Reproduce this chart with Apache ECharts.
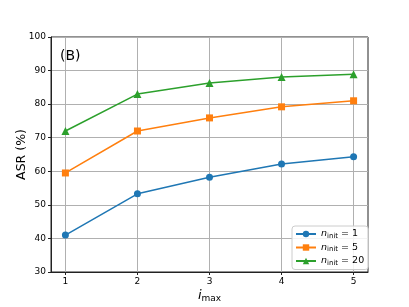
<!DOCTYPE html>
<html><head><meta charset="utf-8">
<script src="https://cdn.jsdelivr.net/npm/echarts@6/dist/echarts.min.js"></script>
<style>html,body{margin:0;padding:0;background:#fff}#c{width:409px;height:307px}</style>
</head><body><div id="c"></div>
<script>
const iMax = [1, 2, 3, 4, 5];
const asrN1 = [41.0, 53.3, 58.2, 62.2, 64.3];
const asrN5 = [59.5, 72.0, 75.9, 79.2, 81.0];
const asrN20 = [72.0, 83.0, 86.3, 88.1, 88.9];
const yTicks = [30, 40, 50, 60, 70, 80, 90, 100];
const nInit = ['1', '5', '20'];

const font = 'DejaVu Sans';
const colors = ['#1f77b4', '#ff7f0e', '#2ca02c'];
const symbols = ['circle', 'rect', 'triangle'];
const datasets = [asrN1, asrN5, asrN20];

const series = datasets.map((vals, k) => ({
  name: 'n' + nInit[k],
  type: 'line',
  data: iMax.map((x, i) => [x, vals[i]]),
  symbol: symbols[k],
  symbolSize: k === 2 ? 8 : 7,
  showSymbol: true,
  lineStyle: { color: colors[k], width: 1.5 },
  itemStyle: { color: colors[k] },
  emphasis: { disabled: true },
  z: 3 + k
}));

const chart = echarts.init(document.getElementById('c'), null, { renderer: 'canvas' });
chart.setOption({
  animation: false,
  title: {
    text: '(B)', left: 55, top: 44,
    textStyle: { fontFamily: font, fontSize: 14, fontWeight: 'normal', color: '#000' }
  },
  grid: { left: 51, right: 41, top: 37, bottom: 35, outerBoundsMode: 'none', containLabel: false,
          show: true, borderColor: '#222', borderWidth: 1, backgroundColor: 'transparent' },
  xAxis: {
    type: 'value', min: 0.8, max: 5.2,
    name: '{i|i}{s|max}', nameLocation: 'middle', nameGap: 16, nameMoveOverlap: false,
    nameTextStyle: { rich: {
      i: { fontFamily: font, fontStyle: 'italic', fontSize: 13, color: '#000' },
      s: { fontFamily: font, fontSize: 9, color: '#000', verticalAlign: 'bottom', padding: [6, 0, 0, 0] }
    } },
    axisLine: { show: true, onZero: false, lineStyle: { color: '#222', width: 1 } },
    axisTick: { show: true, customValues: iMax, length: 3, lineStyle: { color: '#222' } },
    axisLabel: { customValues: iMax, fontFamily: font, fontSize: 9, color: '#000', margin: 5 },
    splitLine: { show: true, lineStyle: { color: '#b0b0b0', width: 1 } }
  },
  yAxis: {
    type: 'value', min: 30, max: 100, interval: 10,
    name: 'ASR (%)', nameLocation: 'middle', nameGap: 23, nameMoveOverlap: false,
    nameTextStyle: { fontFamily: font, fontSize: 12.5, color: '#000' },
    axisLine: { show: true, lineStyle: { color: '#222', width: 1 } },
    axisTick: { show: true, length: 3, lineStyle: { color: '#222' } },
    axisLabel: { fontFamily: font, fontSize: 9, color: '#000', margin: 5 },
    splitLine: { show: true, lineStyle: { color: '#b0b0b0', width: 1 } }
  },
  legend: {
    orient: 'vertical', left: 292, top: 226,
    backgroundColor: 'rgba(255,255,255,0.85)', borderColor: '#cccccc', borderWidth: 1, borderRadius: 3,
    padding: [3, 4, 3, 3], itemGap: 3, itemWidth: 20, itemHeight: 8,
    data: series.map(s => s.name),
    formatter: function (name) {
      const v = name.slice(1);
      return '{n|n}{s|init}{e| = ' + v + '}';
    },
    textStyle: { rich: {
      n: { fontFamily: font, fontStyle: 'italic', fontSize: 9.5, color: '#000' },
      s: { fontFamily: font, fontSize: 7, color: '#000', verticalAlign: 'bottom', padding: [4, 0, 0, 0] },
      e: { fontFamily: font, fontSize: 9.5, color: '#000' }
    } }
  },
  series: series
});
</script></body></html>
